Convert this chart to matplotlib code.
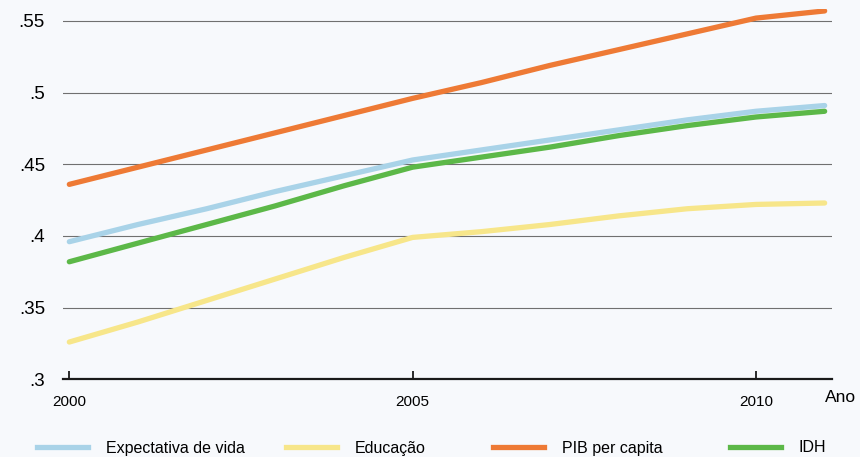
import matplotlib
matplotlib.use('Agg')
import matplotlib.pyplot as plt
from matplotlib.lines import Line2D

plt.rcParams['font.family'] = ['Liberation Sans', 'DejaVu Sans']

# dados
anos = [2000, 2001, 2002, 2003, 2004, 2005, 2006, 2007, 2008, 2009, 2010, 2011]
expectativa = [0.396, 0.408, 0.419, 0.431, 0.442, 0.453, 0.460, 0.467, 0.474, 0.481, 0.487, 0.491]
educacao = [0.326, 0.340, 0.355, 0.370, 0.385, 0.399, 0.403, 0.408, 0.414, 0.419, 0.422, 0.423]
pib = [0.436, 0.448, 0.460, 0.472, 0.484, 0.496, 0.507, 0.519, 0.530, 0.541, 0.552, 0.557]
idh = [0.382, 0.395, 0.408, 0.421, 0.435, 0.448, 0.455, 0.462, 0.470, 0.477, 0.483, 0.487]

series = [
    ('Expectativa de vida', expectativa, '#a9d3e8'),
    ('Educação', educacao, '#f7e68a'),
    ('PIB per capita', pib, '#ee7a35'),
    ('IDH', idh, '#5cb848'),
]

yticks = [0.3, 0.35, 0.4, 0.45, 0.5, 0.55]
ylabels = ['.3', '.35', '.4', '.45', '.5', '.55']
xticks = [2000, 2005, 2010]

bg = '#f7f9fc'
fig = plt.figure(figsize=(8.6, 4.57), dpi=100, facecolor=bg)
ax = fig.add_axes([63 / 860, 77.7 / 457, 769 / 860, 369.8 / 457])
ax.set_facecolor(bg)

for y in yticks[1:]:
    ax.axhline(y, color='#707070', lw=0.8, zorder=1)

handles = []
for nome, vals, cor in series:
    ax.plot(anos, vals, color=cor, lw=3.8, solid_capstyle='round', zorder=3)
    handles.append(Line2D([0], [0], color=cor, lw=3.8))

ax.set_xlim(1999.908, 2011.107)
ax.set_ylim(0.3, 0.558)

for s in ['top', 'right', 'left']:
    ax.spines[s].set_visible(False)
ax.spines['bottom'].set_color('#1a1a1a')
ax.spines['bottom'].set_linewidth(1.6)

ax.set_xticks(xticks)
ax.set_xticklabels([str(a) for a in xticks])
ax.tick_params(axis='x', direction='in', length=5.5, width=1.3, color='#1a1a1a',
               pad=11, labelsize=11)
ax.set_yticks(yticks)
ax.set_yticklabels(ylabels)
ax.tick_params(axis='y', length=0, pad=13, labelsize=13.5)

fig.text(825 / 860, 1 - 397 / 457, 'Ano', fontsize=12.5, va='center', ha='left')

# legenda em quatro blocos
leg_x = [37, 286, 493, 730]
for (nome, vals, cor), h, x in zip(series, handles, leg_x):
    fig.legend([h], [nome], loc='center left', bbox_to_anchor=(x / 860, 1 - 448 / 457),
               frameon=False, fontsize=11.5, handlelength=3.2, handletextpad=1.1,
               borderpad=0, borderaxespad=0)

fig.savefig('out.png', dpi=100, facecolor=bg)
